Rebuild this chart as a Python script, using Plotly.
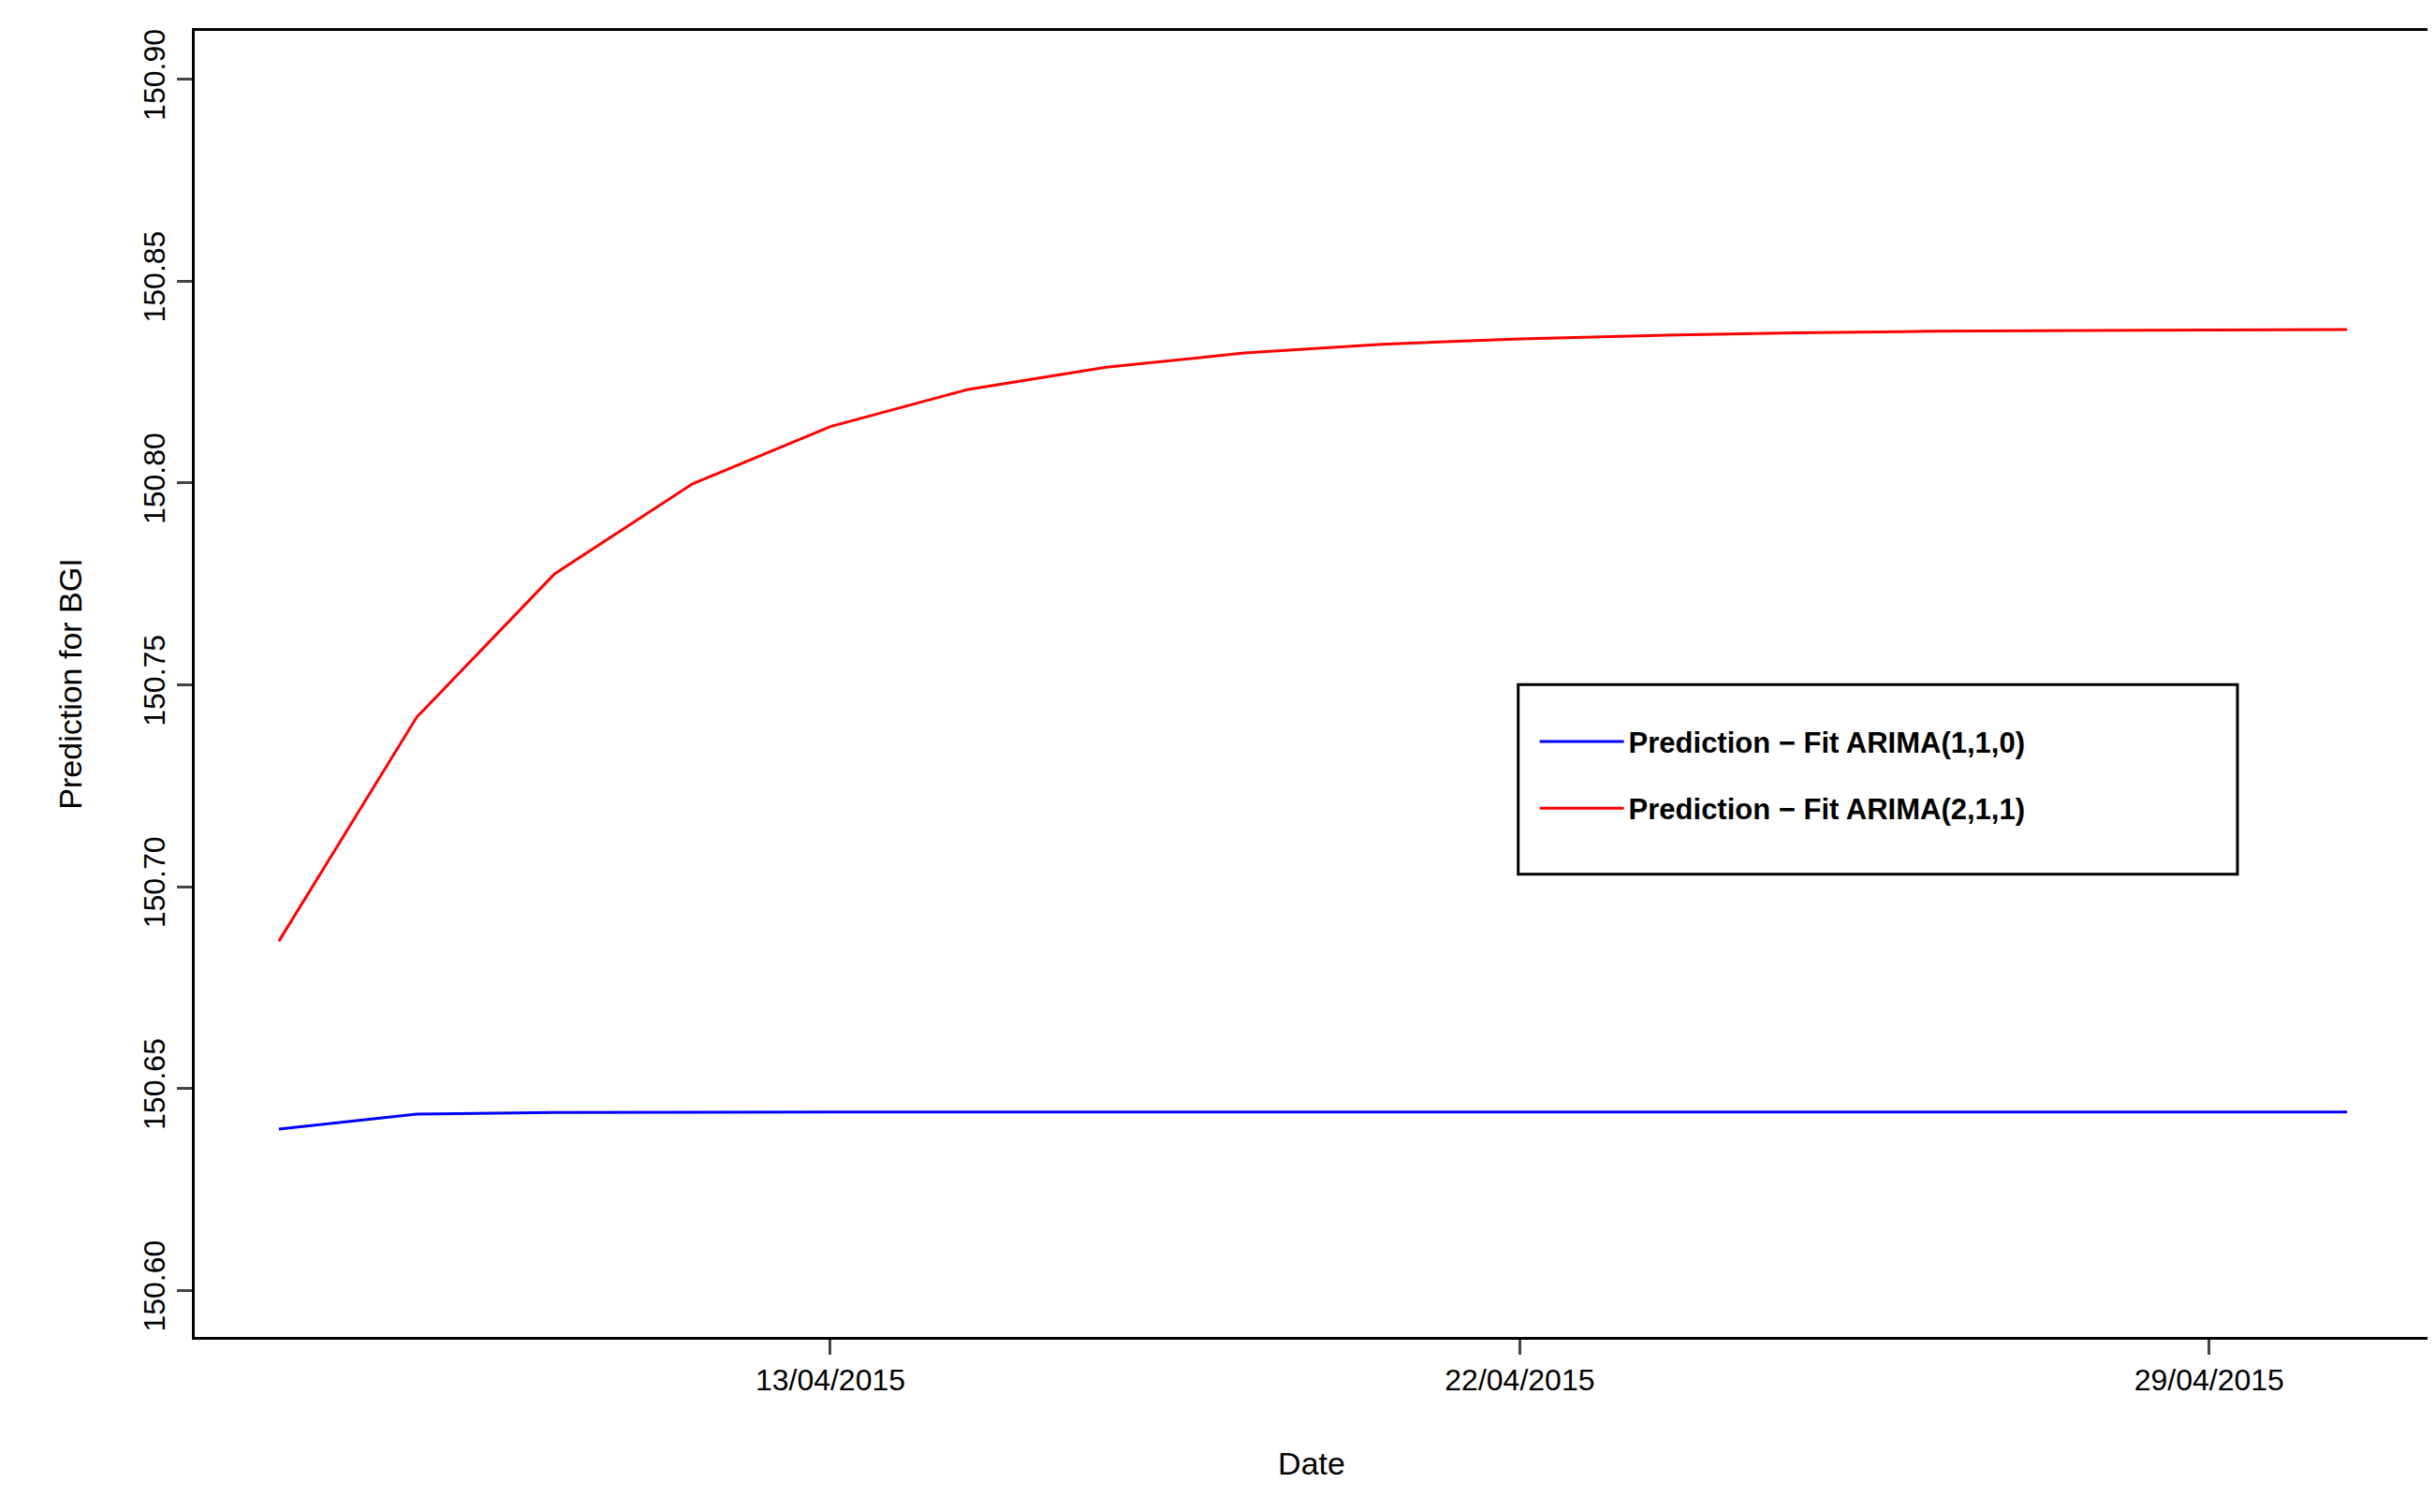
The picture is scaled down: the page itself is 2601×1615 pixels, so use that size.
import plotly.graph_objects as go

idx = list(range(16))
arima110 = [150.6400, 150.6437, 150.6441, 150.6442, 150.6442, 150.6442, 150.6442, 150.6442,
            150.6442, 150.6442, 150.6442, 150.6442, 150.6442, 150.6442, 150.6442, 150.6442]
arima211 = [150.6865, 150.7420, 150.7775, 150.7998, 150.8140, 150.8232, 150.8287, 150.8322,
            150.8344, 150.8357, 150.8366, 150.8372, 150.8376, 150.8378, 150.8379, 150.8380]
tick_pos = [4, 9, 14]
tick_labels = ["13/04/2015", "22/04/2015", "29/04/2015"]
y_ticks = [150.60, 150.65, 150.70, 150.75, 150.80, 150.85, 150.90]

fig = go.Figure()
fig.add_trace(go.Scatter(x=idx, y=arima110, mode="lines", line=dict(color="blue", width=3),
                         legendgroup="a", name="<b>Prediction − Fit ARIMA(1,1,0)</b>"))
fig.add_trace(go.Scatter(x=idx, y=arima211, mode="lines", line=dict(color="red", width=3),
                         legendgroup="b", name="<b>Prediction − Fit ARIMA(2,1,1)</b>"))

fig.add_shape(type="rect", xref="paper", yref="paper", x0=0.5925, x1=0.9145, y0=0.3543, y1=0.4994,
              line=dict(color="black", width=3), fillcolor="white", layer="below")

fig.update_layout(
    width=2601, height=1615, paper_bgcolor="white", plot_bgcolor="white",
    font=dict(family="Liberation Sans, Arial", size=32, color="black"),
    margin=dict(l=200, r=15, t=25, b=195),
    showlegend=True,
    legend=dict(x=0.6, y=0.475, xanchor="left", yanchor="top", borderwidth=0,
                bgcolor="rgba(0,0,0,0)", font=dict(size=31),
                itemwidth=90, tracegroupgap=28),
    xaxis=dict(range=[-0.61, 15.59], tickvals=tick_pos, ticktext=tick_labels,
               showgrid=False, zeroline=False, showline=True, linecolor="black", linewidth=3,
               mirror=True, ticks="outside", ticklen=16, tickwidth=3,
               title=dict(text="Date", font=dict(size=34), standoff=60)),
    yaxis=dict(range=[150.5885, 150.912], tickvals=y_ticks,
               ticktext=[f"{v:.2f}" for v in y_ticks], tickangle=-90,
               showgrid=False, zeroline=False, showline=True, linecolor="black", linewidth=3,
               mirror=True, ticks="outside", ticklen=16, tickwidth=3,
               title=dict(text="Prediction for BGI", font=dict(size=34), standoff=50)),
)
fig.write_html("out.html")
